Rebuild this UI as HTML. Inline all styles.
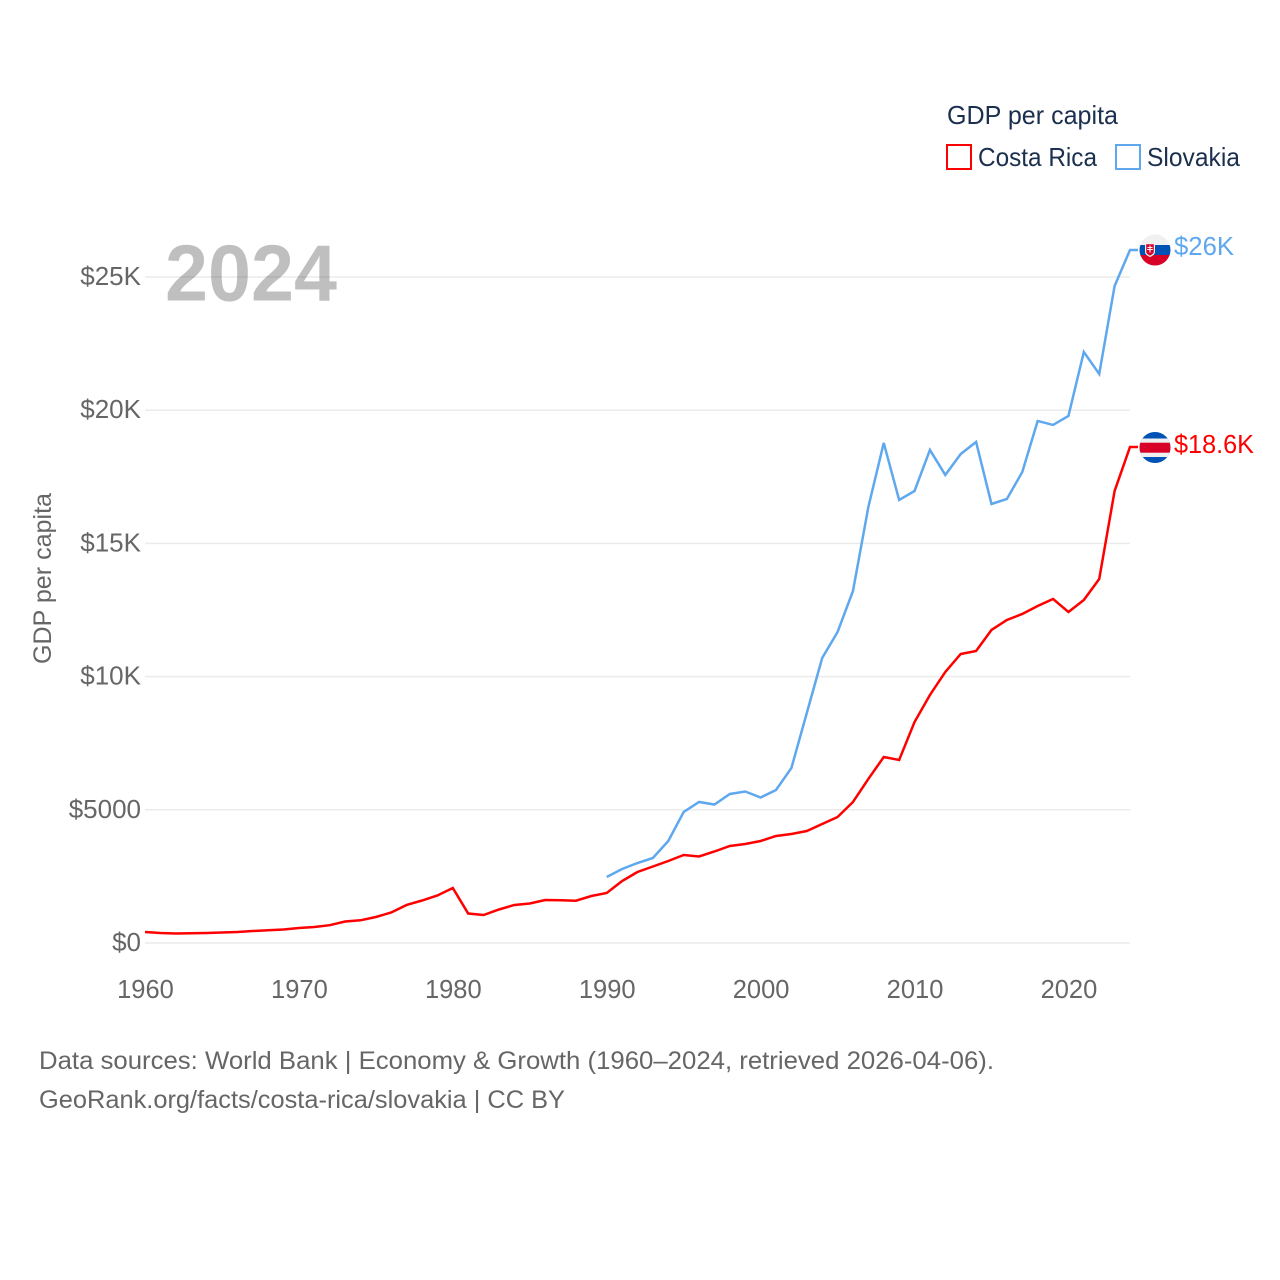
<!DOCTYPE html>
<html lang="en">
<head>
<meta charset="utf-8">
<title>GDP per capita: Costa Rica and Slovakia</title>
<style>
html,body{margin:0;padding:0;background:#fff;}
svg{display:block;font-family:"Liberation Sans",sans-serif;}
</style>
</head>
<body>
<svg id="chart" width="1280" height="1280" viewBox="0 0 1280 1280" xmlns="http://www.w3.org/2000/svg">
  <defs>
    <clipPath id="flag-clip-sk"><circle cx="1155" cy="250" r="15.5"/></clipPath>
    <clipPath id="flag-clip-cr"><circle cx="1155" cy="447.5" r="15.5"/></clipPath>
  </defs>
  <g id="grid"></g>
  <text x="165" y="300.500" font-size="80" font-weight="700" fill="#000" fill-opacity="0.25" textLength="172" lengthAdjust="spacingAndGlyphs">2024</text>
  <g id="y-ticks"></g>
  <g id="x-ticks"></g>
  <text transform="translate(51,664) rotate(-90)" font-size="25" fill="#666" textLength="171" lengthAdjust="spacingAndGlyphs">GDP per capita</text>
  <g id="series"></g>

  <g>
    <text x="947" y="124" font-size="26" fill="#1b2f4e" textLength="171" lengthAdjust="spacingAndGlyphs">GDP per capita</text>
    <rect x="947" y="145" width="24" height="24" fill="none" stroke="#ff0000" stroke-width="2"/>
    <text x="978" y="166" font-size="26" fill="#1b2f4e" textLength="119" lengthAdjust="spacingAndGlyphs">Costa Rica</text>
    <rect x="1116" y="145" width="24" height="24" fill="none" stroke="#5fa8ee" stroke-width="2"/>
    <text x="1147" y="166" font-size="26" fill="#1b2f4e" textLength="93" lengthAdjust="spacingAndGlyphs">Slovakia</text>
  </g>

  <g clip-path="url(#flag-clip-sk)">
    <rect x="1139" y="234" width="32" height="12" fill="#f0f0f0"/>
    <rect x="1139" y="245" width="32" height="10.5" fill="#0052b4"/>
    <rect x="1139" y="255" width="32" height="11" fill="#d80027"/>
    <path d="M1145 243h10v8.500c0 3-2.500 4.500-5 5.500c-2.500-1-5-2.500-5-5.500z" fill="#f0f0f0"/>
    <path d="M1146.200 244.200h7.600v7.300c0 2-1.800 3.200-3.800 4.100c-2-.9-3.800-2.100-3.800-4.100z" fill="#d80027"/>
    <path d="M1149.400 245.500h1.200v1.500h1.900v1h-1.900v1h2.300v1h-2.300v2.500h-1.200v-2.500h-2.300v-1h2.300v-1h-1.900v-1h1.900z" fill="#f0f0f0"/>
  </g>
  <text x="1174" y="255" font-size="26" fill="#5fa8ee" textLength="60" lengthAdjust="spacingAndGlyphs">$26K</text>

  <g clip-path="url(#flag-clip-cr)">
    <rect x="1139" y="431" width="32" height="33" fill="#0052b4"/>
    <rect x="1139" y="438.500" width="32" height="18.500" fill="#f0f0f0"/>
    <rect x="1139" y="442.700" width="32" height="10" fill="#d80027"/>
  </g>
  <text x="1174" y="453" font-size="26" fill="#ff0000" textLength="80" lengthAdjust="spacingAndGlyphs">$18.6K</text>

  <text x="39" y="1069" font-size="25" fill="#666" textLength="955" lengthAdjust="spacingAndGlyphs">Data sources: World Bank | Economy &amp; Growth (1960–2024, retrieved 2026-04-06).</text>
  <text x="39" y="1108" font-size="25" fill="#666" textLength="526" lengthAdjust="spacingAndGlyphs">GeoRank.org/facts/costa-rica/slovakia | CC BY</text>
</svg>
<script>
const years = [];
for (let y = 1960; y <= 2024; y++) years.push(y);
const costaRicaValues = [413,375,357,364,375,394,413,450,477,507,563,601,668,807,852,976,1145,1427,1595,1783,2065,1107,1051,1258,1427,1483,1614,1603,1588,1764,1877,2327,2665,2872,3078,3304,3247,3435,3641,3716,3829,4017,4092,4204,4467,4730,5293,6157,6982,6870,8296,9310,10173,10849,10962,11750,12125,12351,12651,12914,12426,12876,13665,16968,18620];
const slovakiaYears = [1990,1991,1992,1993,1994,1995,1996,1997,1998,1999,2000,2001,2002,2003,2004,2005,2006,2007,2008,2009,2010,2011,2012,2013,2014,2015,2016,2017,2018,2019,2020,2021,2022,2023,2024];
const slovakiaValues = [2478,2778,3003,3191,3829,4918,5293,5199,5593,5687,5462,5744,6570,8634,10699,11675,13214,16367,18770,16630,16968,18507,17569,18357,18807,16480,16668,17681,19596,19446,19784,22186,21360,24664,26015];
const yTickValues = [0,5000,10000,15000,20000,25000];
const yTickLabels = ['$0','$5000','$10K','$15K','$20K','$25K'];
const xTickValues = [1960,1970,1980,1990,2000,2010,2020];

const NS = 'http://www.w3.org/2000/svg';
const xScale = year => 145 + (year - 1960) * (1130 - 145) / 64;
const yScale = value => 943 - value * (943 - 277) / 25000;

function make(tag, parent, attrs, text) {
  const el = document.createElementNS(NS, tag);
  for (const k in attrs) el.setAttribute(k, attrs[k]);
  if (text !== undefined) el.textContent = text;
  parent.appendChild(el);
  return el;
}

const gridGroup = document.getElementById('grid');
const yTickGroup = document.getElementById('y-ticks');
const xTickGroup = document.getElementById('x-ticks');
const seriesGroup = document.getElementById('series');

yTickValues.forEach((v, i) => {
  const line = make('line', gridGroup, {x1: 145, x2: 1130, y1: yScale(v), y2: yScale(v), stroke: '#ebebeb', 'stroke-width': 1.5});
  
  
  const label = make('text', yTickGroup, {x: 141, y: yScale(v) + 8, 'text-anchor': 'end', 'font-size': 26, fill: '#666'}, yTickLabels[i]);
  
  
});

xTickValues.forEach(v => {
  const label = make('text', xTickGroup, {x: xScale(v) + 0.5, y: 998, 'text-anchor': 'middle', 'font-size': 25.500, fill: '#666'}, String(v));
  
  
});

function drawSeries(xs, ys, color, name) {
  const pts = xs.map((x, i) => xScale(x).toFixed(2) + ',' + yScale(ys[i]).toFixed(2));
  pts.push('1138,' + yScale(ys[ys.length - 1]).toFixed(2));
  const line = make('polyline', seriesGroup, {points: pts.join(' '), fill: 'none', stroke: color, 'stroke-width': 2.5, 'stroke-linejoin': 'miter'});
  
  
}

drawSeries(slovakiaYears, slovakiaValues, '#5fa8ee', 'slovakia-line');
drawSeries(years, costaRicaValues, '#ff0000', 'costa-rica-line');
</script>
</body>
</html>
